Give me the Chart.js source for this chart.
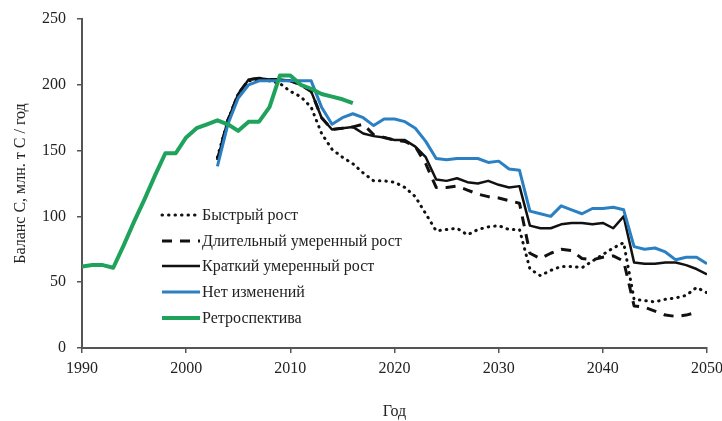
<!DOCTYPE html>
<html>
<head>
<meta charset="utf-8">
<script src="https://cdn.jsdelivr.net/npm/chart.js@4"></script>
<style>
  html, body { margin: 0; padding: 0; background: #fff; }
  #wrap { width: 722px; height: 421px; position: relative; }
</style>
</head>
<body>
<div id="wrap"><canvas id="c"></canvas></div>
<script>
// Баланс углерода: ретроспектива и сценарии до 2050 г.

const retroYears = [1990, 1991, 1992, 1993, 1994, 1995, 1996, 1997, 1998, 1999,
    2000, 2001, 2002, 2003, 2004, 2005, 2006, 2007, 2008, 2009,
    2010, 2011, 2012, 2013, 2014, 2015, 2016];
const retroValues = [62, 63, 63, 61, 78, 96, 113, 131, 148, 148,
    160, 167, 170, 173, 170, 165, 172, 172, 183, 207,
    207, 200, 197, 193, 191, 189, 186];

const scenarioYears = [2003, 2004, 2005, 2006, 2007, 2008, 2009, 2010, 2011, 2012,
    2013, 2014, 2015, 2016, 2017, 2018, 2019, 2020, 2021, 2022,
    2023, 2024, 2025, 2026, 2027, 2028, 2029, 2030, 2031, 2032,
    2033, 2034, 2035, 2036, 2037, 2038, 2039, 2040, 2041, 2042,
    2043, 2044, 2045, 2046, 2047, 2048, 2049, 2050];

// Быстрый рост
const fastValues = [145, 173, 193, 203, 204, 203, 201, 195, 191, 183,
    163, 151, 145, 140, 133, 127, 127, 126, 122, 115,
    102, 89, 90, 91, 86, 90, 92, 93, 90, 90,
    60, 55, 59, 62, 62, 61, 66, 71, 76, 80,
    37, 36, 35, 37, 38, 40, 46, 42];

// Длительный умеренный рост
const longModerateValues = [143, 173, 193, 204, 205, 204, 204, 203, 200, 195,
    175, 166, 167, 168, 170, 162, 160, 158, 157, 153,
    140, 122, 122, 123, 120, 117, 115, 114, 112, 110,
    72, 68, 72, 75, 74, 68, 67, 69, 70, 66,
    32, 31, 28, 25, 24, 25, 27, null];

// Краткий умеренный рост
const shortModerateValues = [143, 173, 193, 204, 205, 204, 204, 203, 200, 195,
    175, 166, 167, 168, 163, 161, 160, 158, 158, 153,
    145, 128, 127, 129, 126, 125, 127, 124, 122, 123,
    93, 91, 91, 94, 95, 95, 94, 95, 91, 100,
    65, 64, 64, 65, 65, 63, 60, 56];

// Нет изменений
const noChangeValues = [138, 170, 190, 200, 203, 203, 203, 203, 203, 203,
    183, 170, 175, 178, 175, 169, 174, 174, 172, 167,
    157, 144, 143, 144, 144, 144, 141, 142, 136, 135,
    104, 102, 100, 108, 105, 102, 106, 106, 107, 105,
    77, 75, 76, 73, 67, 69, 69, 64];

const xTicks = [1990, 2000, 2010, 2020, 2030, 2040, 2050];
const yTicks = [0, 50, 100, 150, 200, 250];

const FONT = '"Liberation Serif", "Times New Roman", serif';
const AXIS_COLOR = '#555';
const TEXT_COLOR = '#222';

function toPoints(years, values) {
    return years.map((x, i) => ({ x: x, y: values[i] }));
}

// легенда внутри области графика
const innerLegend = {
    id: 'innerLegend',
    afterDatasetsDraw(chart) {
        const ctx = chart.ctx;
        const x1 = 162, x2 = 200, tx = 202;
        const rows = [215, 241, 266, 292, 318];
        const items = [3, 2, 1, 0, 4]; // порядок как в оригинале
        ctx.save();
        ctx.font = '16px ' + FONT;
        ctx.textBaseline = 'middle';
        items.forEach((di, r) => {
            const ds = chart.data.datasets[di];
            const y = rows[r];
            ctx.beginPath();
            ctx.setLineDash(ds.borderDash || []);
            ctx.lineCap = ds.borderCapStyle || 'butt';
            ctx.lineWidth = ds.borderWidth;
            ctx.strokeStyle = ds.borderColor;
            ctx.moveTo(x1, y);
            ctx.lineTo(x2, y);
            ctx.stroke();
            ctx.setLineDash([]);
            ctx.fillStyle = TEXT_COLOR;
            ctx.fillText(ds.label, tx, y + 1);
        });
        ctx.restore();
    }
};

new Chart(document.getElementById('c'), {
    type: 'line',
    data: {
        datasets: [
            {
                label: 'Нет изменений',
                data: toPoints(scenarioYears, noChangeValues),
                borderColor: '#2b80c3',
                borderWidth: 3,
                order: 1
            },
            {
                label: 'Краткий умеренный рост',
                data: toPoints(scenarioYears, shortModerateValues),
                borderColor: '#111',
                borderWidth: 2.5,
                order: 2
            },
            {
                label: 'Длительный умеренный рост',
                data: toPoints(scenarioYears, longModerateValues),
                borderColor: '#111',
                borderWidth: 3,
                borderDash: [10, 8],
                order: 3
            },
            {
                label: 'Быстрый рост',
                data: toPoints(scenarioYears, fastValues),
                borderColor: '#111',
                borderWidth: 3,
                borderDash: [0.5, 6],
                borderCapStyle: 'round',
                order: 4
            },
            {
                label: 'Ретроспектива',
                data: toPoints(retroYears, retroValues),
                borderColor: '#1fa35c',
                borderWidth: 4,
                order: 0
            }
        ]
    },
    options: {
        responsive: true,
        maintainAspectRatio: false,
        animation: false,
        events: [],
        layout: { padding: { top: 19, right: 15, left: 0, bottom: 0 } },
        elements: {
            point: { radius: 0 },
            line: { tension: 0, borderJoinStyle: 'round', fill: false }
        },
        scales: {
            x: {
                type: 'linear',
                min: 1990,
                max: 2050,
                afterBuildTicks: (scale) => { scale.ticks = xTicks.map(v => ({ value: v })); },
                afterFit: (scale) => {
                    scale.height = 73;
                    scale.paddingLeft = 0;
                    scale.paddingRight = 0;
                },
                border: { color: AXIS_COLOR, width: 2 },
                grid: { drawOnChartArea: false, drawTicks: true, tickLength: 5, color: AXIS_COLOR, lineWidth: 1.5 },
                ticks: {
                    color: TEXT_COLOR,
                    font: { family: FONT, size: 16 },
                    padding: 6,
                    maxRotation: 0,
                    autoSkip: false,
                    callback: (v) => String(v)
                },
                title: {
                    display: true,
                    text: 'Год',
                    color: TEXT_COLOR,
                    font: { family: FONT, size: 16 },
                    padding: { top: 0, bottom: 0 }
                }
            },
            y: {
                min: 0,
                max: 250,
                afterBuildTicks: (scale) => { scale.ticks = yTicks.map(v => ({ value: v })); },
                afterFit: (scale) => {
                    scale.width = 82;
                    scale.paddingTop = 0;
                    scale.paddingBottom = 0;
                },
                border: { color: AXIS_COLOR, width: 2 },
                grid: { drawOnChartArea: false, drawTicks: true, tickLength: 5, color: AXIS_COLOR, lineWidth: 1.5 },
                ticks: {
                    color: TEXT_COLOR,
                    font: { family: FONT, size: 16 },
                    padding: 11
                },
                title: {
                    display: true,
                    text: 'Баланс С, млн. т С / год',
                    color: TEXT_COLOR,
                    font: { family: FONT, size: 16 },
                    padding: { top: 11, bottom: 0 }
                }
            }
        },
        plugins: {
            legend: { display: false },
            tooltip: { enabled: false }
        }
    },
    plugins: [innerLegend]
});
</script>
</body>
</html>
